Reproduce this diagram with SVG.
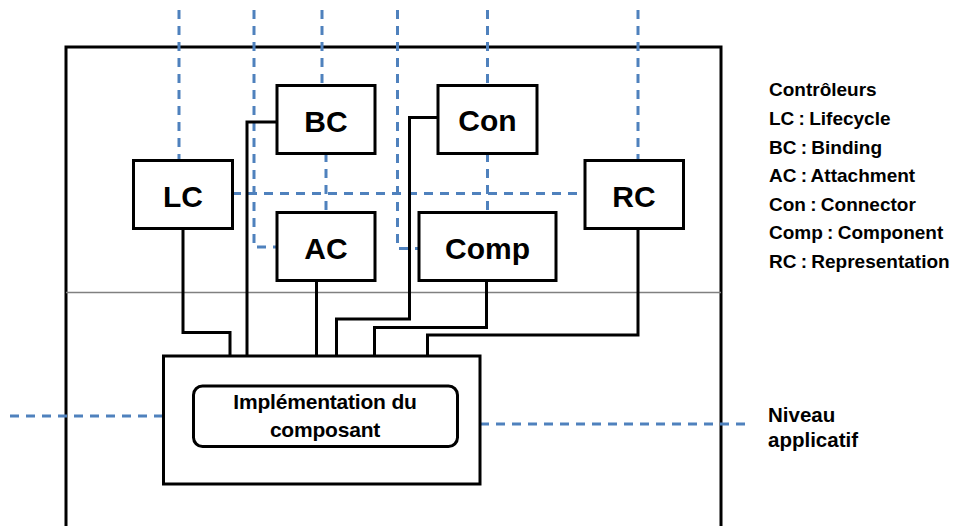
<svg xmlns="http://www.w3.org/2000/svg" width="954" height="526" viewBox="0 0 954 526">
  <style>
    .box { fill: #ffffff; stroke: #000000; stroke-width: 3; }
    .wire { fill: none; stroke: #000000; stroke-width: 3; }
    .dash { fill: none; stroke: #4f81bd; stroke-width: 3; stroke-dasharray: 9 7; }
    .sep { stroke: #808080; stroke-width: 1.5; }
    .lbl { font-family: "Liberation Sans", Arial, sans-serif; font-weight: bold; font-size: 30px; text-anchor: middle; fill: #000000; }
    .impl { font-family: "Liberation Sans", Arial, sans-serif; font-weight: bold; font-size: 21px; letter-spacing: -0.2px; text-anchor: middle; fill: #000000; }
    .note { font-family: "Liberation Sans", Arial, sans-serif; font-weight: bold; font-size: 19px; word-spacing: -1px; fill: #000000; }
    .lvl { font-family: "Liberation Sans", Arial, sans-serif; font-weight: bold; font-size: 20.5px; fill: #000000; }
  </style>

  <!-- component membrane -->
  <g id="membrane">
    <rect x="66" y="47" width="655" height="490" fill="none" stroke="#000000" stroke-width="3"/>
    <line class="sep" x1="66" y1="292.5" x2="721" y2="292.5"/>
  </g>

  <!-- interface links (dashed) and controller wiring (solid) -->
  <g id="connectors">
    <path class="dash" d="M179 10 V160"/>
    <path class="dash" d="M254 10 V247 H277"/>
    <path class="dash" d="M322 10 V85"/>
    <path class="dash" d="M397.5 10 V248.5 H419"/>
    <path class="dash" d="M487.5 10 V85"/>
    <path class="dash" d="M638 10 V160"/>
    <path class="dash" d="M232 193.5 H585"/>
    <path class="dash" d="M326 153 V212"/>
    <path class="dash" d="M487.5 153 V212"/>
    <path class="dash" d="M10 416 H163"/>
    <path class="dash" d="M480 424 H752"/>

    <path class="wire" d="M183 228 V332.5 H230 V356"/>
    <path class="wire" d="M277 122 H247 V356"/>
    <path class="wire" d="M316.5 281 V356"/>
    <path class="wire" d="M438 117.5 H409.5 V319 H336.5 V356"/>
    <path class="wire" d="M486.5 281 V327.5 H374.5 V356"/>
    <path class="wire" d="M638 228 V335 H427.5 V356"/>
  </g>

  <!-- controllers -->
  <g id="lc">
    <rect class="box" x="133.5" y="160.5" width="99" height="68"/>
    <text class="lbl" x="183" y="206.5">LC</text>
  </g>
  <g id="bc">
    <rect class="box" x="277" y="85.5" width="98" height="68"/>
    <text class="lbl" x="326" y="131.5">BC</text>
  </g>
  <g id="ac">
    <rect class="box" x="277" y="212.5" width="98" height="68"/>
    <text class="lbl" x="326" y="259">AC</text>
  </g>
  <g id="con">
    <rect class="box" x="438" y="85.5" width="99" height="68"/>
    <text class="lbl" x="487.5" y="131">Con</text>
  </g>
  <g id="comp">
    <rect class="box" x="419" y="212.5" width="137" height="68"/>
    <text class="lbl" x="487.5" y="258.5">Comp</text>
  </g>
  <g id="rc">
    <rect class="box" x="585" y="160.5" width="98.5" height="68"/>
    <text class="lbl" x="634" y="206.5">RC</text>
  </g>

  <!-- content / implementation -->
  <g id="implementation">
    <rect class="box" x="163.5" y="356" width="316.5" height="128"/>
    <rect class="box" x="193.5" y="386" width="264" height="60.5" rx="9" ry="9"/>
    <text class="impl" x="325" y="408.5">Implémentation du</text>
    <text class="impl" x="325" y="436.5">composant</text>
  </g>

  <!-- legend -->
  <g id="legend">
    <text class="note" x="769" y="96">Contrôleurs</text>
    <text class="note" x="769" y="125">LC : Lifecycle</text>
    <text class="note" x="769" y="153.5">BC : Binding</text>
    <text class="note" x="769" y="182">AC : Attachment</text>
    <text class="note" x="769" y="210.5">Con : Connector</text>
    <text class="note" x="769" y="239">Comp : Component</text>
    <text class="note" x="769" y="267.5">RC : Representation</text>
  </g>

  <g id="level">
    <text class="lvl" x="768" y="421.5">Niveau</text>
    <text class="lvl" x="768" y="446.5">applicatif</text>
  </g>
</svg>
